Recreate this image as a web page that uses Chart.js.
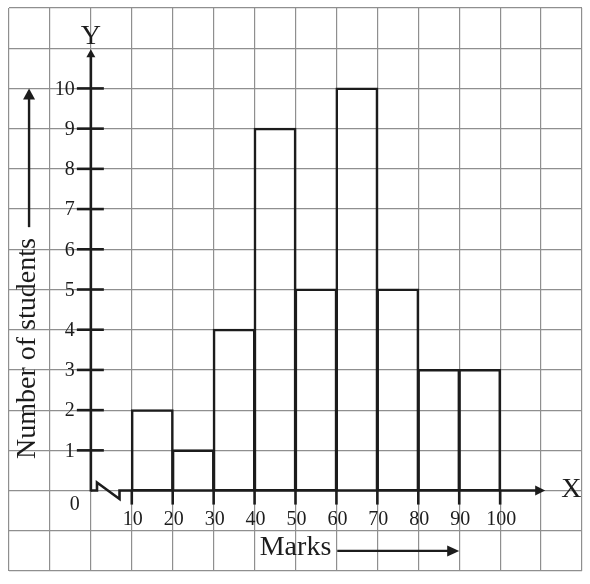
<!DOCTYPE html>
<html><head><meta charset="utf-8">
<script src="https://cdn.jsdelivr.net/npm/chart.js@4.4.1/dist/chart.umd.min.js"></script>
<style>html,body{margin:0;padding:0;background:#fff;} #wrap{width:590px;height:584px;}</style>
</head><body><div id="wrap"><canvas id="c" width="590" height="584"></canvas></div>
<script>
// ---- data ----
const binStarts = [10, 20, 30, 40, 50, 60, 70, 80, 90];
const binWidth = 10;
const counts = [2, 1, 4, 9, 5, 10, 5, 3, 3];
const xTickLabels = ['10', '20', '30', '40', '50', '60', '70', '80', '90', '100'];
const yTickLabels = ['1', '2', '3', '4', '5', '6', '7', '8', '9', '10'];
const originLabel = '0';
const xTitle = 'Marks';
const yTitle = 'Number of students';
const xAxisName = 'X';
const yAxisName = 'Y';

const FONT = '"Liberation Serif", "Times New Roman", serif';
const INK = '#1c1c1c';

const barData = binStarts.map((s, i) => ({ x: s + binWidth / 2, y: counts[i] }));

function arrowHead(ctx, tipX, tipY, dir, len, half) {
  ctx.beginPath();
  if (dir === 'up') {
    ctx.moveTo(tipX, tipY); ctx.lineTo(tipX - half, tipY + len); ctx.lineTo(tipX + half, tipY + len);
  } else {
    ctx.moveTo(tipX, tipY); ctx.lineTo(tipX - len, tipY - half); ctx.lineTo(tipX - len, tipY + half);
  }
  ctx.closePath(); ctx.fill();
}

const decor = {
  id: 'decor',
  afterDatasetsDraw(chart) {
    const ctx = chart.ctx;
    const sx = chart.scales.x, sy = chart.scales.y;
    const X = v => sx.getPixelForValue(v);
    const Y = v => sy.getPixelForValue(v);
    const ox = X(0), oy = Y(0);
    ctx.save();
    ctx.strokeStyle = INK; ctx.fillStyle = INK;
    ctx.lineWidth = 2.6; ctx.lineCap = 'butt'; ctx.lineJoin = 'miter';

    // y axis
    const yTip = Y(11) + 1;
    ctx.beginPath(); ctx.moveTo(ox, oy + 1); ctx.lineTo(ox, yTip + 5); ctx.stroke();
    arrowHead(ctx, ox, yTip, 'up', 8, 4.5);

    // x axis with break
    const xTip = X(111);
    ctx.beginPath();
    ctx.moveTo(ox, oy);
    ctx.lineTo(X(1.5), oy);
    ctx.lineTo(X(1.5), Y(0.2));
    ctx.lineTo(X(7), Y(-0.21));
    ctx.lineTo(X(7), oy);
    ctx.lineTo(xTip - 5, oy);
    ctx.stroke();
    arrowHead(ctx, xTip, oy, 'right', 10, 5);

    // x ticks & labels
    ctx.font = '20px ' + FONT;
    ctx.textAlign = 'center'; ctx.textBaseline = 'middle';
    xTickLabels.forEach(t => {
      const px = X(Number(t));
      ctx.beginPath(); ctx.moveTo(px, oy); ctx.lineTo(px, oy + 14); ctx.stroke();
      ctx.fillText(t, px + 1, oy + 29);
    });
    // y ticks & labels
    ctx.textAlign = 'right';
    yTickLabels.forEach(t => {
      const py = Y(Number(t));
      ctx.beginPath(); ctx.moveTo(ox - 14, py); ctx.lineTo(ox + 13, py); ctx.stroke();
      ctx.fillText(t, ox - 16, py + 1);
    });
    ctx.textAlign = 'center';
    ctx.fillText(originLabel, ox - 16, oy + 14);

    // axis names
    ctx.font = '28px ' + FONT;
    ctx.fillText(yAxisName, ox, Y(11.3));
    ctx.fillText(xAxisName, X(117.4), oy - 1);

    // x title and arrow
    ctx.fillText(xTitle, X(50), Y(-1.42));
    const ay = Y(-1.5);
    ctx.lineWidth = 2.4;
    ctx.beginPath(); ctx.moveTo(X(60.2), ay); ctx.lineTo(X(90) - 8, ay); ctx.stroke();
    arrowHead(ctx, X(90), ay, 'right', 12, 5.5);

    // y title and arrow
    ctx.save();
    ctx.translate(X(-15.45), Y(3.53));
    ctx.rotate(-Math.PI / 2);
    ctx.fillText(yTitle, 0, 0);
    ctx.restore();
    const axx = X(-15.1);
    ctx.beginPath(); ctx.moveTo(axx, Y(6.55)); ctx.lineTo(axx, Y(10) + 8); ctx.stroke();
    arrowHead(ctx, axx, Y(10), 'up', 11, 6);

    ctx.restore();
  }
};

new Chart(document.getElementById('c'), {
  type: 'bar',
  data: {
    datasets: [{
      data: barData,
      backgroundColor: 'rgba(0,0,0,0)',
      borderColor: INK,
      borderWidth: 0.6,
      inflateAmount: 1.0,
      borderSkipped: 'start',
      barPercentage: 1,
      categoryPercentage: 1
    }]
  },
  options: {
    responsive: false,
    animation: false,
    devicePixelRatio: 1,
    layout: { padding: { left: 9, right: 8, top: 8, bottom: 13 } },
    plugins: { legend: { display: false }, tooltip: { enabled: false } },
    scales: {
      x: {
        type: 'linear', min: -20, max: 120, offset: false,
        ticks: { display: false, stepSize: 10 },
        grid: { color: '#8f8f8f', lineWidth: 1.2, drawTicks: false, offset: false },
        border: { display: false }
      },
      y: {
        type: 'linear', min: -2, max: 12,
        ticks: { display: false, stepSize: 1 },
        grid: { color: '#8f8f8f', lineWidth: 1.2, drawTicks: false },
        border: { display: false }
      }
    }
  },
  plugins: [decor]
});
</script>
</body></html>
